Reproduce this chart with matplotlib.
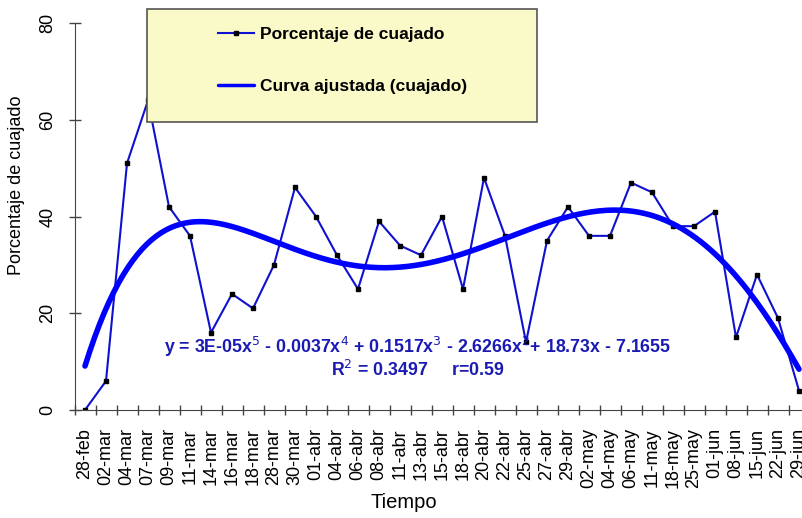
import numpy as np
import matplotlib
matplotlib.use('Agg')
import matplotlib.pyplot as plt
from matplotlib.patches import Rectangle

plt.rcParams['font.family'] = ['Liberation Sans', 'DejaVu Sans']

# fechas de muestreo
fechas = ['28-feb', '02-mar', '04-mar', '07-mar', '09-mar', '11-mar', '14-mar',
          '16-mar', '18-mar', '28-mar', '30-mar', '01-abr', '04-abr', '06-abr',
          '08-abr', '11-abr', '13-abr', '15-abr', '18-abr', '20-abr', '22-abr',
          '25-abr', '27-abr', '29-abr', '02-may', '04-may', '06-may', '11-may',
          '18-may', '25-may', '01-jun', '08-jun', '15-jun', '22-jun', '29-jun']
# porcentaje de cuajado
cuajado = [0, 6, 51, 64, 42, 36, 16, 24, 21, 30, 46, 40, 32, 25, 39, 34, 32, 40,
           25, 48, 36, 14, 35, 42, 36, 36, 47, 45, 38, 38, 41, 15, 28, 19, 4]

ecuacion = 'y = 3E-05x$^5$ - 0.0037x$^4$ + 0.1517x$^3$ - 2.6266x$^2$+ 18.73x - 7.1655'
r2_texto = 'R$^2$ = 0.3497     r=0.59'

W, H = 802, 518
AX_L, AX_B, AX_W, AX_H = 74.5, 108, 735, 387

def ax_x(px):
    return (px - AX_L) / AX_W

def ax_y(py):
    return (H - py - AX_B) / AX_H

x = np.arange(1, len(fechas) + 1)

# curva ajustada (polinomio grado 5, como la linea de tendencia)
coef = np.polyfit(x, cuajado, 5)
xs = np.linspace(1, len(fechas), 300)
ys = np.polyval(coef, xs)

fig = plt.figure(figsize=(W/100, H/100), dpi=100)
ax = fig.add_axes([AX_L/W, AX_B/H, AX_W/W, AX_H/H])

ax.plot(x, cuajado, color='#1010d0', lw=1.5, marker='s', ms=3.5,
        mfc='black', mec='black', label='Porcentaje de cuajado', zorder=2)
ax.plot(xs, ys, color='#0000ff', lw=4, solid_capstyle='round',
        label='Curva ajustada (cuajado)', zorder=3)

ax.set_xlim(0.5, len(fechas) + 0.5)
ax.set_ylim(0, 80)
ax.set_yticks([0, 20, 40, 60, 80])
ax.set_xticks(x)
ax.set_xticklabels(fechas, rotation=90, fontsize=13, va='top')
ax.set_xticks(np.arange(0.5, len(fechas) + 1), minor=True)
ax.tick_params(axis='x', which='major', length=0, pad=13)
ax.tick_params(axis='x', which='minor', direction='inout', length=7, width=1, color='#444444')
ax.tick_params(axis='y', direction='inout', length=8, width=1, color='#444444',
               labelsize=13, pad=9)
for t in ax.get_yticklabels():
    t.set_rotation(90)
    t.set_va('center')

for s in ['top', 'right']:
    ax.spines[s].set_visible(False)
ax.spines['left'].set_color('#444444')
ax.spines['bottom'].set_color('#444444')

ax.set_ylabel('Porcentaje de cuajado', fontsize=13)
ax.yaxis.set_label_coords(ax_x(17), ax_y(185))
ax.set_xlabel('Tiempo', fontsize=14.5)
ax.xaxis.set_label_coords(ax_x(404), ax_y(503))
ax.xaxis.label.set_va('center')
ax.yaxis.label.set_va('center')

ax.text(ax_x(418), ax_y(347), ecuacion, transform=ax.transAxes,
        ha='center', va='center', color='#1a1ab4', fontsize=12.8, fontweight='bold')
ax.text(ax_x(418), ax_y(370), r2_texto, transform=ax.transAxes,
        ha='center', va='center', color='#1a1ab4', fontsize=12.8, fontweight='bold')

# caja de la leyenda
caja = Rectangle((ax_x(147), ax_y(122)), ax_x(537) - ax_x(147), ax_y(9) - ax_y(122),
                 transform=ax.transAxes, facecolor='#fafac8', edgecolor='#555555',
                 lw=1.2, clip_on=False, zorder=5)
ax.add_patch(caja)

leg = ax.legend(loc='upper left', bbox_to_anchor=(ax_x(218), ax_y(27)),
                frameon=False, prop={'weight': 'bold', 'size': 12.5},
                handlelength=2.1, handletextpad=0.3, labelspacing=2.1,
                borderpad=0, borderaxespad=0)
leg.set_zorder(6)
leg.get_lines()[1].set_linewidth(2.5)

fig.savefig('out.png', dpi=100)
